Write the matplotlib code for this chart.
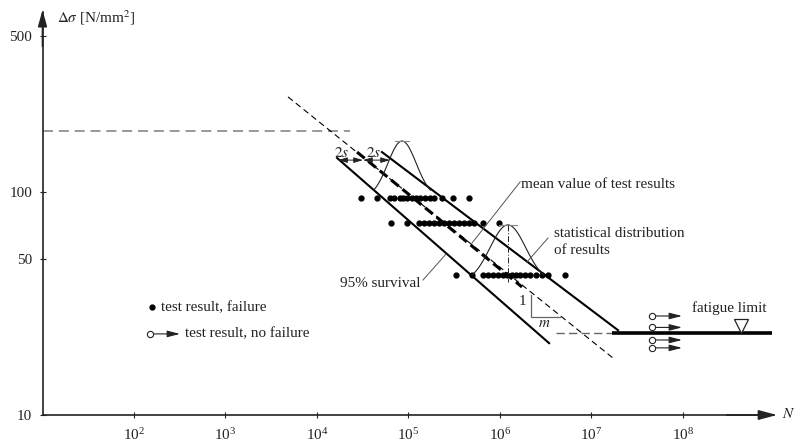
import numpy as np
import matplotlib.pyplot as plt
from matplotlib.ticker import NullLocator

plt.rcParams['font.family'] = ['Liberation Serif', 'DejaVu Serif']
plt.rcParams['mathtext.fontset'] = 'stix'
plt.rcParams['font.size'] = 10.9

ink = '#222222'
grey = '#777777'

# test results, failure: stress range level and cycles to failure
level_hi = 94
N_hi = [3.0e4, 4.5e4, 6.2e4, 7.0e4, 8.0e4, 8.8e4, 9.75e4, 1.08e5, 1.22e5, 1.35e5,
        1.5e5, 1.7e5, 1.88e5, 2.3e5, 3.1e5, 4.64e5]
level_mid = 72.6
N_mid = [6.44e4, 9.64e4, 1.30e5, 1.48e5, 1.67e5, 1.90e5, 2.15e5, 2.44e5, 2.77e5,
         3.14e5, 3.57e5, 4.04e5, 4.58e5, 5.20e5, 6.52e5, 9.75e5]
level_lo = 42.5
N_lo = [3.30e5, 4.94e5, 6.52e5, 7.39e5, 8.38e5, 9.51e5, 1.08e6, 1.19e6, 1.35e6,
        1.50e6, 1.65e6, 1.88e6, 2.13e6, 2.47e6, 2.88e6, 3.35e6, 5.13e6]

# test results, no failure (run-outs)
runout_N = 4.58e7
runout_end = 9.75e7
runout_S = [27.8, 24.7, 21.7, 20.0]

# S-N lines, end points
mean_N, mean_S = [2.74e4, 1.74e6], [151, 37.5]
mean_ext_N, mean_ext_S = [4.82e3, 1.72e7], [267, 18.0]
upper_N, upper_S = [5.13e4, 1.95e7], [151, 24.0]
lower_N, lower_S = [1.66e4, 3.44e6], [142, 21.0]

fatigue_limit = 23.3
fatigue_N = [4.1e6, 1.68e7, 9.4e8]
static_S = 188
static_N = [10, 2.3e4]

# distribution bells: centre N, base stress, sigma and height in decades
bell_N = [8.5e4, 1.22e6]
bell_base = [102, 42.5]
bell_sigma = [0.155, 0.195]
bell_height = [0.22, 0.224]
bell_bar = [0.08, 0.1]

# 2s spacing at this stress
s_level = 139
s_N = [1.70e4, 3.18e4, 6.28e4]

fig = plt.figure(figsize=(7.97, 4.47), dpi=100)
ax = fig.add_axes([0, 0, 1, 1])
ax.set_xscale('log')
ax.set_yscale('log')
ax.set_xlim(10**0.5355, 10**9.246)
ax.set_ylim(10**0.8565, 10**2.861)

# axes with arrows
for side in ['top', 'right']:
    ax.spines[side].set_visible(False)
ax.spines['left'].set_position(('data', 10))
ax.spines['bottom'].set_position(('data', 10))
ax.spines['left'].set_bounds(10, 640)
ax.spines['bottom'].set_bounds(10, 1.0e9)
for side in ['left', 'bottom']:
    ax.spines[side].set_color(ink)
    ax.spines[side].set_linewidth(1.2)
ax.annotate('', xy=(10, 655), xytext=(10, 450),
            arrowprops=dict(arrowstyle='-|>,head_length=0.9,head_width=0.25',
                            color=ink, lw=1.2, shrinkA=0, shrinkB=0))
ax.annotate('', xy=(1.06e9, 10), xytext=(3e8, 10),
            arrowprops=dict(arrowstyle='-|>,head_length=1.0,head_width=0.27',
                            color=ink, lw=1.2, shrinkA=0, shrinkB=0))

ax.set_xticks([1e2, 1e3, 1e4, 1e5, 1e6, 1e7, 1e8])
ax.set_yticks([10, 50, 100, 500], ['10', '50', '100', '500'])
ax.xaxis.set_minor_locator(NullLocator())
ax.yaxis.set_minor_locator(NullLocator())
ax.tick_params(direction='inout', length=5, width=0.8, color=ink,
               labelcolor=ink, labelsize=10.9)
ax.tick_params(axis='x', pad=6)
ax.tick_params(axis='y', pad=5)

ax.text(14.4, 573, r'$\mathit{\Delta\sigma}$ [N/mm$^2$]', color=ink, va='baseline')
ax.text(1.22e9, 9.7, r'$N$', color=ink, va='baseline', ha='left')

# reference lines
ax.plot(static_N, [static_S] * 2, color='#888888', lw=1.2, dashes=(6, 3.5))
ax.plot(fatigue_N[:2], [fatigue_limit] * 2, color='#666666', lw=1.0, dashes=(6, 3))
ax.plot(fatigue_N[1:], [fatigue_limit] * 2, color='k', lw=2.6, solid_capstyle='butt')
ax.plot(4.3e8, 25.1, marker='v', ms=10, mfc='white', mec=ink, mew=0.9)

# S-N lines
ax.plot(mean_ext_N, mean_ext_S, color='k', lw=0.8, dashes=(5.5, 3.5))
ax.plot(mean_N, mean_S, color='k', lw=2.2, dashes=(3.2, 1.6))
ax.plot(upper_N, upper_S, color='k', lw=1.5)
ax.plot(lower_N, lower_S, color='k', lw=1.5)

# test results
for lvl, Ns in [(level_hi, N_hi), (level_mid, N_mid), (level_lo, N_lo)]:
    ax.plot(Ns, [lvl] * len(Ns), 'o', color='k', ms=3.5, ls='none')

for s in runout_S:
    ax.annotate('', xy=(runout_end, s), xytext=(runout_N, s),
                arrowprops=dict(arrowstyle='-|>,head_length=0.7,head_width=0.18',
                                color=ink, lw=0.8, shrinkA=2.5, shrinkB=0))
    ax.plot(runout_N, s, 'o', ms=4.5, mfc='white', mec=ink, mew=0.8)

# distribution bells
for c, b, sg, h, w in zip(bell_N, bell_base, bell_sigma, bell_height, bell_bar):
    lc = np.log10(c)
    lg = lc + np.linspace(-2, 2, 120) * sg
    z = (np.exp(-0.5 * ((lg - lc) / sg) ** 2) - np.exp(-2)) / (1 - np.exp(-2))
    ax.plot(10**lg, b * 10**(h * z), color=ink, lw=0.8)
    peak = b * 10**h
    ax.plot([c / 10**w, c * 10**w], [peak] * 2, color='#888888', lw=0.8)
ax.plot([bell_N[1]] * 2, [bell_base[1] * 10**bell_height[1], 39.4],
        color=ink, lw=0.7, ls=(0, (6, 2, 1, 2)))

# 2s arrows
for a, b in [(s_N[0], s_N[1]), (s_N[1], s_N[2])]:
    ax.annotate('', xy=(b, s_level), xytext=(a, s_level),
                arrowprops=dict(arrowstyle='<|-|>,head_length=0.5,head_width=0.15',
                                color=ink, lw=0.7, shrinkA=0, shrinkB=0))
ax.text(1.86e4, 144, r'$2s$', color=ink, ha='center', va='baseline')
ax.text(4.12e4, 144, r'$2s$', color=ink, ha='center', va='baseline')

# slope triangle
ax.plot([2.18e6, 2.18e6, 4.53e6], [34.5, 27.5, 27.5], color='#666666', lw=0.9)
ax.text(1.78e6, 31.1, '1', color=ink, ha='center', va='baseline')
ax.text(3.03e6, 24.7, r'$m$', color=ink, ha='center', va='baseline')

# annotations
lead = dict(color='#555555', lw=0.7)
ax.plot([1.66e6, 4.94e5], [111, 59.0], **lead)
ax.text(1.70e6, 104, 'mean value of test results', color=ink, va='baseline')
ax.plot([3.35e6, 1.97e6], [62.2, 48.5], **lead)
ax.text(3.89e6, 63.0, 'statistical distribution', color=ink, va='baseline')
ax.text(3.89e6, 52.6, 'of results', color=ink, va='baseline')
ax.plot([1.44e5, 2.57e5], [40.3, 52.7], **lead)
ax.text(1.34e5, 37.5, '95% survival', color=ink, ha='right', va='baseline')
ax.text(1.25e8, 29.0, 'fatigue limit', color=ink, va='baseline')

# key
ax.plot(157, 30.5, 'o', color='k', ms=3.5)
ax.text(197, 29.2, 'test result, failure', color=ink, va='baseline')
ax.annotate('', xy=(318, 23.1), xytext=(150, 23.1),
            arrowprops=dict(arrowstyle='-|>,head_length=0.7,head_width=0.18',
                            color=ink, lw=0.8, shrinkA=2.5, shrinkB=0))
ax.plot(150, 23.1, 'o', ms=4.5, mfc='white', mec=ink, mew=0.8)
ax.text(361, 22.3, 'test result, no failure', color=ink, va='baseline')

fig.savefig('out.png', dpi=100, facecolor='white')
